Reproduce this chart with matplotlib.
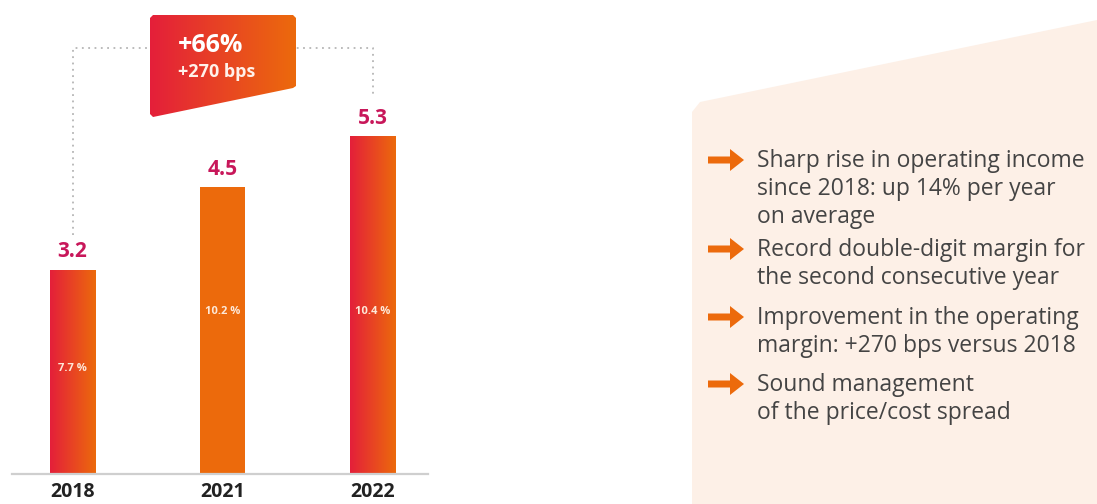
import numpy as np
import matplotlib
matplotlib.use("Agg")
from matplotlib import pyplot as plt
from matplotlib.patches import Polygon, FancyArrow
from matplotlib.colors import LinearSegmentedColormap

years = ['2018', '2021', '2022']
income = [3.2, 4.5, 5.3]
margins = ['7.7 %', '10.2 %', '10.4 %']
gradient_bar = [True, False, True]
badge_main = '+66%'
badge_sub = '+270 bps'
bullets = [
    'Sharp rise in operating income\nsince 2018: up 14% per year\non average',
    'Record double-digit margin for\nthe second consecutive year',
    'Improvement in the operating\nmargin: +270 bps versus 2018',
    'Sound management\nof the price/cost spread',
]

RED = '#e41f3a'
ORANGE = '#ec6a0c'
CRIMSON = '#c8175a'
grad = LinearSegmentedColormap.from_list('ro', [RED, ORANGE])
plt.rcParams['font.family'] = ['Open Sans', 'DejaVu Sans']

W, H = 1097, 504
fig = plt.figure(figsize=(W / 100, H / 100), dpi=100)

# overlay in pixel coordinates for decorations
deco = fig.add_axes([0, 0, 1, 1])
deco.set_xlim(0, W)
deco.set_ylim(H, 0)
deco.axis('off')

# right hand panel
panel = Polygon([(692, 504), (692, 112), (700, 102), (1097, 20), (1097, 504)],
                closed=True, facecolor='#fdf0e7', edgecolor='none')
deco.add_patch(panel)

# bar chart
ax = fig.add_axes([12 / W, 30 / H, 416 / W, 446 / H])
ax.set_xlim(-0.403, 2.37)
ax.set_ylim(0, 7)
ax.patch.set_alpha(0)
x = np.arange(len(years))
bars = ax.bar(x, income, width=0.3, color=ORANGE, linewidth=0, zorder=2)
g = np.linspace(0, 1, 256).reshape(1, -1)
for b, use_grad in zip(bars, gradient_bar):
    if use_grad:
        b.set_facecolor('none')
        im = ax.imshow(g, cmap=grad, aspect='auto', zorder=2,
                       extent=[b.get_x(), b.get_x() + b.get_width(), 0, b.get_height()])
        im.set_clip_path(b)
for xi, v in zip(x, income):
    ax.text(xi, v + 0.12, f'{v:.1f}', ha='center', va='bottom', fontsize=15,
            fontweight='bold', color=CRIMSON)
ax.text(0, 1.66, margins[0], ha='center', va='center', fontsize=8, color='#fde8d8', fontweight='bold')
ax.text(1, 2.55, margins[1], ha='center', va='center', fontsize=8, color='#fde8d8', fontweight='bold')
ax.text(2, 2.55, margins[2], ha='center', va='center', fontsize=8, color='#fde8d8', fontweight='bold')
ax.set_xticks(x)
ax.set_xticklabels(years, fontsize=14, fontweight='bold', color='#222222')
ax.tick_params(length=0, pad=6)
ax.set_yticks([])
for s in ['top', 'left', 'right']:
    ax.spines[s].set_visible(False)
ax.spines['bottom'].set_color('#cfcfcf')
ax.spines['bottom'].set_linewidth(1.6)

# dotted bracket from 2018 to 2022
deco.plot([73, 73, 373, 373], [235, 48, 48, 95], color='#b5b5b5', lw=1.3,
          linestyle=(0, (1, 2.5)), zorder=1)

# badge
badge = Polygon([(150, 18), (153, 15), (293, 15), (296, 18), (296, 86),
                 (293, 88), (153, 117), (150, 114)],
                closed=True, facecolor='none', edgecolor='none')
deco.add_patch(badge)
im = deco.imshow(g, cmap=grad, aspect='auto', extent=[150, 296, 117, 15], zorder=3)
im.set_clip_path(badge)
deco.text(178, 45, badge_main, fontsize=18, fontweight='bold', color='white',
          ha='left', va='center', zorder=4)
deco.text(178, 72, badge_sub, fontsize=13, fontweight='bold', color='#fff1ea',
          ha='left', va='center', zorder=4)

# bullet list
tops = [160, 249, 317, 384]
for yt, txt in zip(tops, bullets):
    deco.add_patch(FancyArrow(708, yt, 22, 0, width=7, head_width=22,
                              head_length=14, length_includes_head=False,
                              color=ORANGE, linewidth=0))
    deco.text(757, yt - 11, txt, fontsize=16.5, color='#444444', ha='left', va='top',
              linespacing=1.22)

fig.savefig('out.png', dpi=100)
